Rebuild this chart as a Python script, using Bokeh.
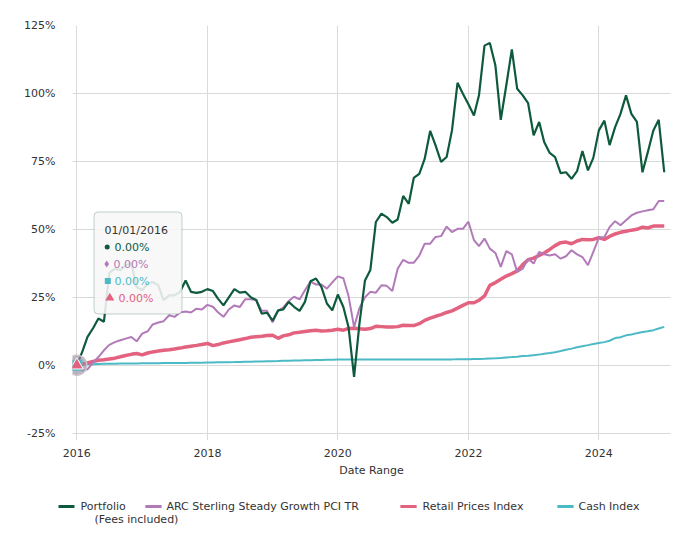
import pandas as pd
from bokeh.plotting import figure
from bokeh.models import (Range1d, FixedTicker, DatetimeTickFormatter, PrintfTickFormatter,
                          Label, BoxAnnotation, ColumnDataSource, CustomJSTickFormatter)
from bokeh.layouts import column
from bokeh.embed import file_html
from bokeh.resources import INLINE
from bokeh.core.properties import value

# ---------------- data ----------------
dates = pd.date_range("2016-01-01", "2025-01-01", freq="MS")

portfolio = [
    0, 5, 10.4, 13.6, 17.2, 16, 34, 35.5, 35, 36.8, 37.5, 28.8,
    27.6, 30, 30.6, 29.4, 23.9, 25.7, 25.7, 27, 31.2, 27, 26.6, 27,
    28, 27.3, 24.5, 22, 25, 28, 26.7, 27, 25, 24, 19, 19.3,
    16.4, 20.2, 20.5, 23.3, 21.5, 20, 23.3, 30.9, 31.9, 28.8, 22.7, 20.2,
    26, 21.4, 14, -4.3, 15.3, 31.2, 35, 52.7, 55.8, 54.5, 52.4, 53.6,
    62.3, 59.4, 68.9, 70.4, 75.9, 86.2, 80.9, 74.8, 76.6, 86.4, 103.9, 99.9,
    96, 91.9, 99.3, 117.6, 118.6, 110.3, 90.3, 103, 116.2, 101.7, 99.3, 96.4,
    84.6, 89.5, 82.1, 78.1, 76.6, 70.7, 71, 68.6, 71.4, 78.8, 71.7, 76.3,
    86.4, 90, 81, 87.6, 92.5, 99.3, 92.5, 89.5, 71, 78.4, 86.4, 90.3,
    71,
]
arc = [
    0, -2, -1.5, 1, 3, 5.5, 7.5, 8.5, 9.2, 9.8, 10.4, 8.8,
    11.6, 12.5, 15, 15.7, 16.2, 18.4, 17.8, 19.4, 19.8, 19.4, 20.8, 20.5,
    22.2, 21.5, 19.5, 17.8, 20.5, 22, 21.4, 24.3, 24.3, 24, 20, 20,
    15.8, 20, 21.2, 23.6, 25.2, 24.2, 27.6, 30.8, 29.7, 29.7, 28.2, 30.5,
    32.7, 32, 25.5, 14, 21, 25, 27, 26.7, 29.4, 29.2, 27.3, 35.5,
    38.8, 37.7, 37.7, 40.3, 44.7, 44.7, 47.2, 47.5, 51, 49, 50.2, 50.2,
    52.8, 46, 43.8, 46.6, 42.9, 41.3, 36.2, 42, 40.8, 34.3, 35.5, 39.2,
    37.4, 41.7, 40.8, 40.4, 40.8, 39.2, 40.1, 42.3, 40.8, 39.8, 36.8, 41.7,
    46.9, 47.2, 50.8, 53, 51.5, 53.3, 55.1, 56.1, 56.6, 57, 57.4, 60.4,
    60.4,
]
rpi = [
    0, 0.4, 0.8, 1.4, 1.8, 2, 2.3, 2.6, 3.1, 3.6, 4, 4.3,
    3.8, 4.5, 4.9, 5.2, 5.5, 5.7, 6, 6.3, 6.7, 7, 7.3, 7.6,
    8, 7.2, 7.6, 8.2, 8.6, 9, 9.4, 9.8, 10.3, 10.5, 10.7, 10.9,
    11, 9.9, 10.8, 11.2, 11.9, 12.1, 12.4, 12.7, 12.9, 12.6, 12.7, 12.9,
    13.2, 12.9, 13.5, 13.6, 13.4, 13.2, 13.5, 14.3, 14.2, 14.1, 14.1, 14.2,
    14.7, 14.6, 14.6, 15.3, 16.5, 17.3, 18, 18.6, 19.4, 20, 21, 22,
    23, 23, 23.9, 25.5, 29.4, 30.4, 31.6, 32.8, 33.7, 34.7, 37, 38.8,
    39.4, 40.4, 41.3, 42.6, 44, 45.1, 45.3, 44.7, 45.7, 46.3, 46.2, 46.3,
    46.9, 46.3, 47.4, 48.3, 48.9, 49.3, 49.7, 50, 50.8, 50.5, 51.2, 51.2,
    51.2,
]
cash = [
    0, 0.3, 0.35, 0.4, 0.45, 0.5, 0.55, 0.55, 0.6, 0.6, 0.65, 0.65,
    0.7, 0.7, 0.75, 0.75, 0.8, 0.8, 0.8, 0.85, 0.85, 0.9, 0.9, 0.95,
    1.0, 1.0, 1.05, 1.1, 1.1, 1.15, 1.2, 1.25, 1.3, 1.35, 1.4, 1.45,
    1.5, 1.55, 1.6, 1.65, 1.7, 1.75, 1.8, 1.85, 1.9, 1.95, 2.0, 2.05,
    2.1, 2.1, 2.15, 2.15, 2.15, 2.15, 2.15, 2.15, 2.15, 2.15, 2.15, 2.15,
    2.15, 2.15, 2.15, 2.15, 2.15, 2.15, 2.15, 2.15, 2.15, 2.15, 2.2, 2.2,
    2.2, 2.25, 2.3, 2.4, 2.5, 2.6, 2.7, 2.85, 3.0, 3.15, 3.35, 3.5,
    3.7, 3.9, 4.2, 4.5, 4.8, 5.2, 5.7, 6.1, 6.6, 7.0, 7.4, 7.8,
    8.2, 8.5, 9.0, 10.0, 10.3, 11.0, 11.3, 11.8, 12.2, 12.5, 12.9, 13.5,
    14.1,
]

series_names = ["Portfolio", "ARC Sterling Steady Growth PCI TR", "Retail Prices Index", "Cash Index"]
portfolio_note = "(Fees included)"
y_ticks = [-25, 0, 25, 50, 75, 100, 125]
x_tick_years = [2016, 2018, 2020, 2022, 2024]
chart_title = "Asset Performance"
date_span = "01/01/2016 - 01/01/2025"
tooltip_date = "01/01/2016"
x_axis_title = "Date Range"
y_axis_title = "Performance"

# ---------------- styles ----------------
GREEN = "#0e5a3d"
PURPLE = "#b27ab9"
PINK = "#e2627f"
TEAL = "#4cbac6"
TXT = "#333333"
FONT = "DejaVu Sans"
GRID = "#dadada"

# layout of the frame (canvas pixels)
FL, FR, FT, FB = 72, 670, 25, 440
x_start = pd.Timestamp("2015-12-08")
x_end = pd.Timestamp("2025-02-05")
y_lo, y_hi = -27.7, 125.0
ms0, ms1 = x_start.value / 1e6, x_end.value / 1e6


def px2x(px):
    return ms0 + (px - FL) / (FR - FL) * (ms1 - ms0)


def py2y(py):
    return y_hi - (py - FT) / (FB - FT) * (y_hi - y_lo)


W = 690
MAIN_H = 490

p = figure(width=W, height=MAIN_H, x_axis_type="datetime",
           x_range=Range1d(ms0, ms1), y_range=Range1d(y_lo, y_hi),
           output_backend="svg", toolbar_location=None,
           min_border_left=FL, min_border_right=W - FR,
           min_border_top=FT, min_border_bottom=MAIN_H - FB)
p.outline_line_color = None
p.background_fill_color = "white"
p.border_fill_color = "white"

xt = FixedTicker(ticks=[pd.Timestamp(f"{y}-01-01").value / 1e6 for y in x_tick_years])
p.xaxis.ticker = xt
fmt = "%Y"
p.xaxis.formatter = DatetimeTickFormatter(
    microseconds=fmt, milliseconds=fmt, seconds=fmt, minsec=fmt, minutes=fmt,
    hourmin=fmt, hours=fmt, days=fmt, months=fmt, years=fmt)
p.yaxis.ticker = FixedTicker(ticks=y_ticks)
p.yaxis.formatter = PrintfTickFormatter(format="%d%%")

for ax in (p.xaxis[0], p.yaxis[0]):
    ax.axis_line_color = None
    ax.major_tick_line_color = None
    ax.minor_tick_line_color = None
    ax.major_tick_out = 0
    ax.major_tick_in = 0
    ax.major_label_text_font = FONT
    ax.major_label_text_font_size = "11px"
    ax.major_label_text_color = TXT
p.yaxis.major_label_standoff = 17
p.xaxis.major_label_standoff = 8
p.xaxis.axis_label = x_axis_title
p.xaxis.axis_label_text_font = FONT
p.xaxis.axis_label_text_font_size = "11px"
p.xaxis.axis_label_text_font_style = "normal"
p.xaxis.axis_label_text_color = TXT
p.xaxis.axis_label_standoff = 4

p.grid.grid_line_color = GRID
p.grid.grid_line_width = 1

src = ColumnDataSource(dict(date=dates, portfolio=portfolio, arc=arc, rpi=rpi, cash=cash))
p.line("date", "cash", source=src, line_color=TEAL, line_width=2)
p.line("date", "rpi", source=src, line_color=PINK, line_width=3.5)
p.line("date", "arc", source=src, line_color=PURPLE, line_width=2)
p.line("date", "portfolio", source=src, line_color=GREEN, line_width=2.2)

# hover highlight at first point
p.scatter([dates[0]], [portfolio[0]], size=20, marker="circle", fill_color="#968d9f",
          fill_alpha=0.65, line_color="#c9c3cd", line_width=1.5)
p.scatter([dates[0]], [cash[0]], size=11, marker="square", fill_color=TEAL, line_color=None)
p.scatter([dates[0]], [rpi[0]], size=13, marker="triangle", fill_color=PINK,
          line_color="white", line_width=1)

# titles and y-axis title (screen units are relative to the frame's bottom-left)
lab = dict(x_units="screen", y_units="screen", text_font=FONT, text_font_size="11px",
           text_color=TXT, text_align="center", text_baseline="middle")
p.add_layout(Label(x=229.5 - FL, y=FB - 10, text=chart_title, **lab))
p.add_layout(Label(x=501.5 - FL, y=FB - 10, text=date_span, **lab))
p.add_layout(Label(x=11 - FL, y=FB - 232, text=y_axis_title, angle=90, angle_units="deg", **lab))

# tooltip box
p.add_layout(BoxAnnotation(left=px2x(93.5), right=px2x(181.5), top=py2y(211.5), bottom=py2y(313.5),
                           fill_color="#f7f7f7", fill_alpha=0.88, line_color="#2f6e55",
                           line_width=1, border_radius=4))
tip_rows_y = [py2y(v) for v in (229.5, 246.5, 263.5, 280.5, 297.5)]
p.text([px2x(104)], [tip_rows_y[0]], text=[tooltip_date], text_font=value(FONT),
       text_font_size="11px", text_color=TXT, text_baseline="middle", level="overlay")
tip_vals = [portfolio[0], arc[0], cash[0], rpi[0]]
tip_cols = [GREEN, PURPLE, TEAL, PINK]
tip_marks = ["circle", "diamond", "square", "triangle"]
tip_msize = [5, 7, 6, 9]
tip_mx = [106.7, 106.2, 107.3, 109.3]
tip_tx = [114, 113, 114, 118]
for i in range(4):
    p.scatter([px2x(tip_mx[i])], [tip_rows_y[i + 1]], marker=tip_marks[i], size=tip_msize[i],
              fill_color=tip_cols[i], line_color=None, level="overlay")
    p.text([px2x(tip_tx[i])], [tip_rows_y[i + 1]], text=[f"{tip_vals[i]:.2f}%"],
           text_font=value(FONT), text_font_size="11px", text_color=tip_cols[i],
           text_baseline="middle", level="overlay")

# ---------------- legend strip (its frame is aligned with the main frame: FL..FR) ----------------
LEG_TOP = MAIN_H
LEG_H = 46
leg_cols = [GREEN, PURPLE, PINK, TEAL]
sym_x0 = [58, 145, 400, 557]
txt_x = [80, 166, 422, 578]
row_y = 506

leg = figure(width=W, height=LEG_H, x_range=Range1d(FL, FR),
             y_range=Range1d(LEG_TOP + LEG_H, LEG_TOP),
             output_backend="svg", toolbar_location=None, min_border=0,
             min_border_left=FL, min_border_right=W - FR,
             x_axis_location=None, y_axis_location="left")
leg.outline_line_color = None
leg.grid.visible = False
leg.background_fill_color = "white"
leg.border_fill_color = "white"

# first swatch lies left of the strip's frame: draw it as the strip axis' single tick mark
la = leg.yaxis[0]
la.ticker = FixedTicker(ticks=[row_y])
la.formatter = CustomJSTickFormatter(code="return ''")
la.axis_line_color = None
la.minor_tick_line_color = None
la.major_tick_line_color = leg_cols[0]
la.major_tick_line_width = 3
la.major_tick_out = FL - sym_x0[0]
la.major_tick_in = sym_x0[0] + 16 - FL
la.major_label_standoff = 0

for c, x0 in zip(leg_cols[1:], sym_x0[1:]):
    # line swatch: a tiny label whose padded background forms a 16x3 bar
    leg.add_layout(Label(x=x0 + 8 - FL, y=LEG_TOP + LEG_H - row_y, x_units="screen", y_units="screen",
                         text=" ", text_font_size="1px", text_color=c,
                         text_align="center", text_baseline="middle",
                         background_fill_color=c, background_fill_alpha=1, padding=(8, 1)))
leg.text(x=txt_x, y=[row_y] * 4, text=series_names, text_font=value(FONT),
         text_font_size="11px", text_color=TXT, text_baseline="middle")
leg.text(x=[94], y=[519], text=[portfolio_note], text_font=value(FONT),
         text_font_size="11px", text_color=TXT, text_baseline="middle")

layout = column(p, leg, spacing=0)
open("out.html", "w").write(file_html(layout, INLINE))
